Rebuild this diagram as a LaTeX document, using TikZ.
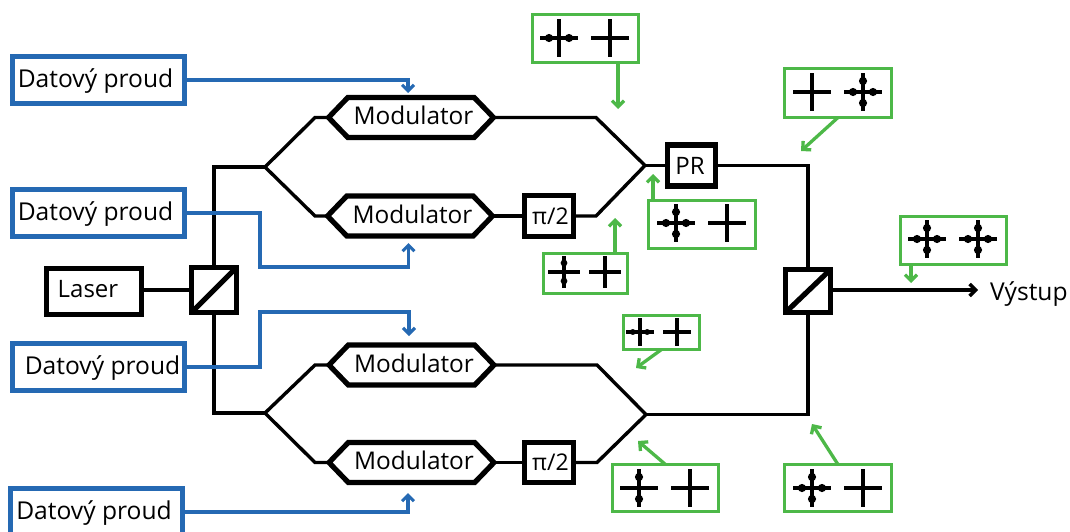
\documentclass[tikz,border=0pt]{standalone}
\usepackage{fontspec}
\setmainfont{Open Sans}
\usetikzlibrary{arrows.meta,shapes.symbols}
\definecolor{bl}{HTML}{2569B3}
\definecolor{gr}{HTML}{4DB848}
\tikzset{
  x=1pt,y=-1pt,
  every node/.style={outer sep=0pt,inner sep=0pt},
  bluebox/.style={draw=bl,line width=4.7pt,minimum width=172pt,minimum height=47pt,font=\fontsize{24.6}{26}\selectfont,text height=18pt,text depth=4pt},
  blackbox/.style={draw=black,line width=5.2pt,fill=white,font=\fontsize{24}{26}\selectfont},
  modbox/.style={draw=black,line width=5.2pt,fill=white,shape=signal,signal to=west and east,signal pointer angle=92,minimum width=165pt,minimum height=40pt,font=\fontsize{24.4}{26}\selectfont,text height=14pt,text depth=0pt},
  greenbox/.style={draw=gr,line width=3.6pt},
  wire/.style={draw=black,line width=3.4pt,line join=miter},
  bluewire/.style={draw=bl,line width=3.1pt,-{Straight Barb[length=6pt,width=12pt,line width=3.1pt]}},
  greenwire/.style={draw=gr,line width=3.3pt,-{Straight Barb[length=6pt,width=12pt,line width=3.3pt]}},
  pics/plain/.style={code={
    \draw[line width=3.2pt] (-19,0)--(19,0) (0,-19)--(0,19);}},
  pics/hdot/.style={code={
    \draw[line width=3.2pt] (-19,0)--(19,0) (0,-19)--(0,19);
    \fill (-10,0) circle[radius=4.1] (10,0) circle[radius=4.1];}},
  pics/vdot/.style={code={
    \draw[line width=3.2pt] (-19,0)--(19,0) (0,-19)--(0,19);
    \fill (0,-11) circle[radius=4.1] (0,11) circle[radius=4.1];}},
  pics/adot/.style={code={
    \draw[line width=3.2pt] (-19,0)--(19,0) (0,-19)--(0,19);
    \fill (-10,0) circle[radius=4.1] (10,0) circle[radius=4.1]
          (0,-11) circle[radius=4.1] (0,11) circle[radius=4.1];}},
}
\begin{document}
\begin{tikzpicture}
\useasboundingbox (0,0) rectangle (1070,531);
\clip (0,0) rectangle (1070,531);
% data sources
\node[bluebox] (d1) at (98.5,80) {\hspace{-6pt}Datový proud};
\node[bluebox] (d2) at (98.5,213) {\hspace{-6pt}Datový proud};
\node[bluebox] (d3) at (98.5,367) {\hspace{8pt}Datový proud};
\node[bluebox] (d4) at (96.5,512) {\hspace{-5pt}Datový proud};
% black blocks
\node[blackbox,minimum width=95pt,minimum height=46pt] (laser) at (94,291.5) {\raisebox{6pt}{\hspace{-12pt}Laser}};
\node[blackbox,minimum width=45pt,minimum height=45pt] (bs1) at (214,290) {};
\node[blackbox,minimum width=45pt,minimum height=43pt] (bs2) at (808,291) {};
\node[blackbox,minimum width=48pt,minimum height=41pt] (pr) at (691.5,165.5) {\hspace{-3pt}PR};
\node[blackbox,minimum width=49pt,minimum height=41pt,font=\fontsize{23}{24}\selectfont] (ph1) at (549,216) {\hspace{3pt}π/2};
\node[blackbox,minimum width=49pt,minimum height=40pt,font=\fontsize{23}{24}\selectfont] (ph2) at (549,462.5) {\hspace{3pt}π/2};
\node[modbox] (m1) at (411,117.5) {\hspace{5pt}Modulator};
\node[modbox] (m2) at (410,216) {\hspace{5pt}Modulator};
\node[modbox] (m3) at (411.5,365) {\hspace{5pt}Modulator};
\node[modbox] (m4) at (411.5,462.5) {\hspace{5pt}Modulator};
% junctions
\coordinate (t0) at (214,167); \coordinate (s1) at (265,167);
\coordinate (u1) at (315,117.5); \coordinate (u2) at (315,216);
\coordinate (b0) at (214,413); \coordinate (s2) at (265,413);
\coordinate (u3) at (315,365); \coordinate (u4) at (315,462.5);
\coordinate (v1) at (596,117.5); \coordinate (v2) at (596,216); \coordinate (c1) at (645,165.5);
\coordinate (v3) at (597,365); \coordinate (v4) at (597,462.5); \coordinate (c2) at (646,414.5);
\coordinate (r1) at (808,165.5); \coordinate (r2) at (808,414.5);
\coordinate (out) at (978,290);
% black wires
\draw[wire] (laser.east |- bs1.west) -- (bs1.west);
\draw[wire] (bs1.north) -- (t0) -- (s1);
\draw[wire] (bs1.south) -- (b0) -- (s2);
\draw[wire] (m1.west) -- (u1) -- (s1) -- (u2) -- (m2.west);
\draw[wire] (m3.west) -- (u3) -- (s2) -- (u4) -- (m4.west);
\draw[wire] (m1.east) -- (v1) -- (c1) -- (v2) -- (ph1.east);
\draw[wire] (m2.east) -- (ph1.west);
\draw[wire] (m3.east) -- (v3) -- (c2) -- (v4) -- (ph2.east);
\draw[wire] (m4.east) -- (ph2.west);
\draw[wire] (c1) -- (pr.west);
\draw[wire] (pr.east) -- (r1) -- (bs2.north);
\draw[wire] (c2) -- (r2) -- (bs2.south);
\draw[wire,-{Straight Barb[length=6pt,width=12pt,line width=3.4pt]}] (bs2.east |- out) -- (out);
% splitter diagonals
\draw[line width=5.2pt] (bs1.south west) -- (bs1.north east);
\draw[line width=5.2pt] (bs2.south west) -- (bs2.north east);
\node[font=\fontsize{24.6}{26}\selectfont,anchor=base west] (vy) at (990,300) {Výstup};
% data wires
\coordinate (a1) at (408,93); \coordinate (a2) at (408.5,243);
\coordinate (a3) at (409,336); \coordinate (a4) at (408,493);
\coordinate (j2) at (260,267); \coordinate (j3) at (260,312);
\draw[bluewire] (d1.east) -| (a1);
\draw[bluewire] (d2.east) -| (j2) -| (a2);
\draw[bluewire] (d3.east) -| (j3) -| (a3);
\draw[bluewire] (d4.east) -| (a4);
% polarisation boxes
\node[greenbox,minimum width=106pt,minimum height=48pt] (g1) at (585.5,38.5) {};
\pic at (559,38) {hdot}; \pic at (610,38) {plain};
\node[greenbox,minimum width=84pt,minimum height=40pt] (g2) at (585.5,273.5) {};
\pic[scale=.82] at (564,272) {vdot}; \pic[scale=.82] at (605,272) {plain};
\node[greenbox,minimum width=107pt,minimum height=48pt] (g3) at (702,224.5) {};
\pic at (676,223) {adot}; \pic at (727,223) {plain};
\node[greenbox,minimum width=107pt,minimum height=49pt] (g4) at (838,93) {};
\pic at (812,92) {plain}; \pic at (863,92) {adot};
\node[greenbox,minimum width=106pt,minimum height=48pt] (g5) at (953.5,240.5) {};
\pic at (927,239) {adot}; \pic at (978,239) {adot};
\node[greenbox,minimum width=76pt,minimum height=34pt] (g6) at (661.5,332.5) {};
\pic[scale=.72] at (640,332) {hdot}; \pic[scale=.72] at (677,332) {plain};
\node[greenbox,minimum width=106pt,minimum height=47pt] (g7) at (665.5,488) {};
\pic at (639,488) {vdot}; \pic at (690,488) {plain};
\node[greenbox,minimum width=107pt,minimum height=47pt] (g8) at (838,488) {};
\pic at (812,488) {adot}; \pic at (863,488) {plain};
% polarisation pointers
\coordinate (p1) at (618,109); \coordinate (p2) at (615,218); \coordinate (p3) at (653,174);
\coordinate (p4) at (801,151); \coordinate (p5) at (911,283); \coordinate (p6) at (636,368);
\coordinate (p7) at (638,441); \coordinate (p8) at (812,424);
\draw[greenwire] (g1.south -| p1) -- (p1);
\draw[greenwire] (g2.north -| p2) -- (p2);
\draw[greenwire] (g3.north -| p3) -- (p3);
\draw[greenwire] (g4.south) -- (p4);
\draw[greenwire] (g5.south -| p5) -- (p5);
\draw[greenwire] (g6.south) -- (p6);
\draw[greenwire] (g7.north) -- (p7);
\draw[greenwire] (g8.north) -- (p8);
\end{tikzpicture}
\end{document}
